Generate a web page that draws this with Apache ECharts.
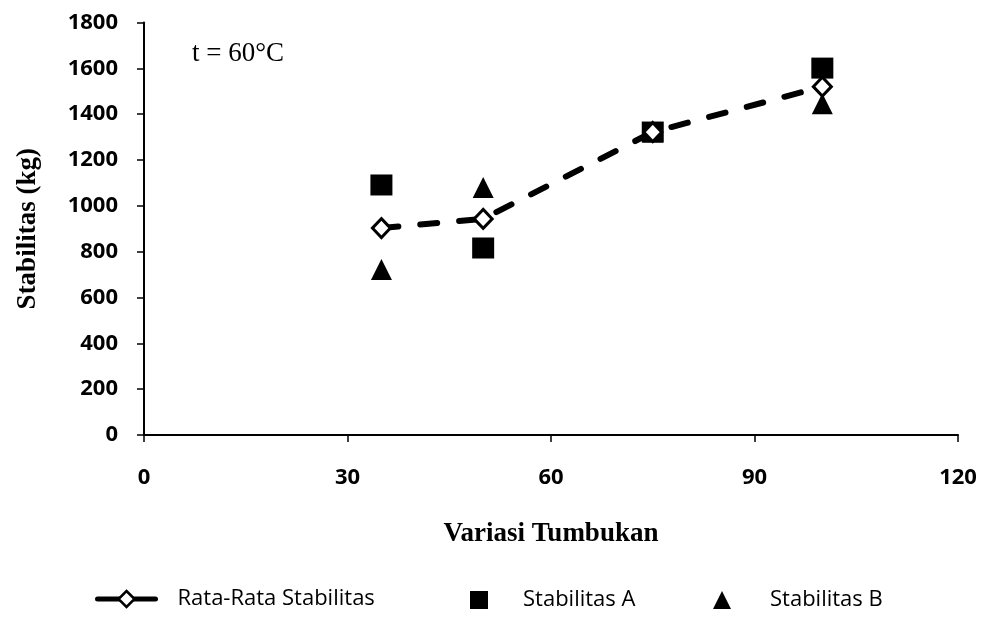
<!DOCTYPE html>
<html>
<head>
<meta charset="utf-8">
<script src="https://cdn.jsdelivr.net/npm/echarts@6/dist/echarts.min.js"></script>
<style>
  html, body { margin: 0; padding: 0; background: #fff; }
  #chart { width: 984px; height: 620px; }
</style>
</head>
<body>
<div id="chart"></div>
<script>
// Collision variations (x) and stability in kg (y)
const tumbukan = [35, 50, 75, 100];
const rataRata = [903, 943, 1322, 1520];
const stabilitasA = [1091, 816, 1322, 1601];
const stabilitasB = [722, 1080, 1322, 1446];
const xTicks = [0, 30, 60, 90, 120];
const yTicks = [0, 200, 400, 600, 800, 1000, 1200, 1400, 1600, 1800];

const pairs = (xs, ys) => xs.map((x, i) => [x, ys[i]]);

const sansFont = '"Open Sans", "Liberation Sans", sans-serif';
const serifFont = '"Liberation Serif", "DejaVu Serif", serif';

const chart = echarts.init(document.getElementById('chart'), null, { renderer: 'canvas' });

const legendText = { fontFamily: sansFont, fontSize: 22, color: '#000' };
const legendTop = 588;

chart.setOption({
  animation: false,
  backgroundColor: '#fff',
  grid: { left: 144, right: 26, top: 22.5, bottom: 185 },
  title: {
    text: 't = 60\u00B0C',
    left: 187, top: 35,
    textStyle: { fontFamily: serifFont, fontSize: 27, fontWeight: 'normal', color: '#000' }
  },
  xAxis: {
    type: 'value',
    min: xTicks[0], max: xTicks[xTicks.length - 1], interval: 30,
    name: 'Variasi Tumbukan',
    nameLocation: 'middle', nameGap: 86,
    nameTextStyle: { fontFamily: serifFont, fontSize: 27, fontWeight: 'bold', color: '#000' },
    axisLine: { lineStyle: { color: '#000', width: 2 } },
    axisTick: { show: true, length: 7, lineStyle: { color: '#000', width: 1.5 } },
    axisLabel: {
      fontFamily: sansFont, fontSize: 22, fontWeight: 'bold', color: '#000', margin: 32,
      formatter: v => String(v)
    },
    splitLine: { show: false }
  },
  yAxis: {
    type: 'value',
    min: yTicks[0], max: yTicks[yTicks.length - 1], interval: 200,
    name: 'Stabilitas (kg)',
    nameLocation: 'middle', nameGap: 102,
    nameTextStyle: { fontFamily: serifFont, fontSize: 27, fontWeight: 'bold', color: '#000' },
    axisLine: { show: true, lineStyle: { color: '#000', width: 2 } },
    axisTick: { show: true, length: 7, lineStyle: { color: '#000', width: 1.5 } },
    axisLabel: {
      fontFamily: sansFont, fontSize: 22, fontWeight: 'bold', color: '#000', margin: 26,
      formatter: v => String(v)
    },
    splitLine: { show: false }
  },
  legend: [
    {
      top: legendTop, left: 95, padding: 0, itemWidth: 58, itemHeight: 20,
      data: ['Rata-Rata Stabilitas'],
      lineStyle: { color: '#000', width: 5, type: 'solid' },
      itemStyle: { color: '#fff', borderColor: '#000', borderWidth: 2.5 },
      textStyle: Object.assign({}, legendText, { padding: [0, 0, 0, 17] })
    },
    {
      top: legendTop + 1, left: 470, padding: 0, itemWidth: 18, itemHeight: 18,
      data: ['Stabilitas A'],
      textStyle: Object.assign({}, legendText, { padding: [0, 0, 0, 30] })
    },
    {
      top: legendTop + 1, left: 713, padding: 0, itemWidth: 18, itemHeight: 18,
      data: ['Stabilitas B'],
      textStyle: Object.assign({}, legendText, { padding: [0, 0, 0, 34] })
    }
  ],
  series: [
    {
      name: 'Stabilitas A',
      type: 'scatter',
      data: pairs(tumbukan, stabilitasA),
      symbol: 'rect', symbolSize: [22, 21],
      itemStyle: { color: '#000', opacity: 1 },
      z: 2
    },
    {
      name: 'Stabilitas B',
      type: 'scatter',
      data: pairs(tumbukan, stabilitasB),
      symbol: 'triangle', symbolSize: [21, 21],
      itemStyle: { color: '#000', opacity: 1 },
      z: 2
    },
    {
      name: 'Rata-Rata Stabilitas',
      type: 'line',
      data: pairs(tumbukan, rataRata),
      symbol: 'diamond', symbolSize: [18, 19],
      lineStyle: { color: '#000', width: 6, type: [17, 22], cap: 'round' },
      itemStyle: { color: '#fff', borderColor: '#000', borderWidth: 3, opacity: 1 },
      z: 3
    }
  ]
});
</script>
</body>
</html>
